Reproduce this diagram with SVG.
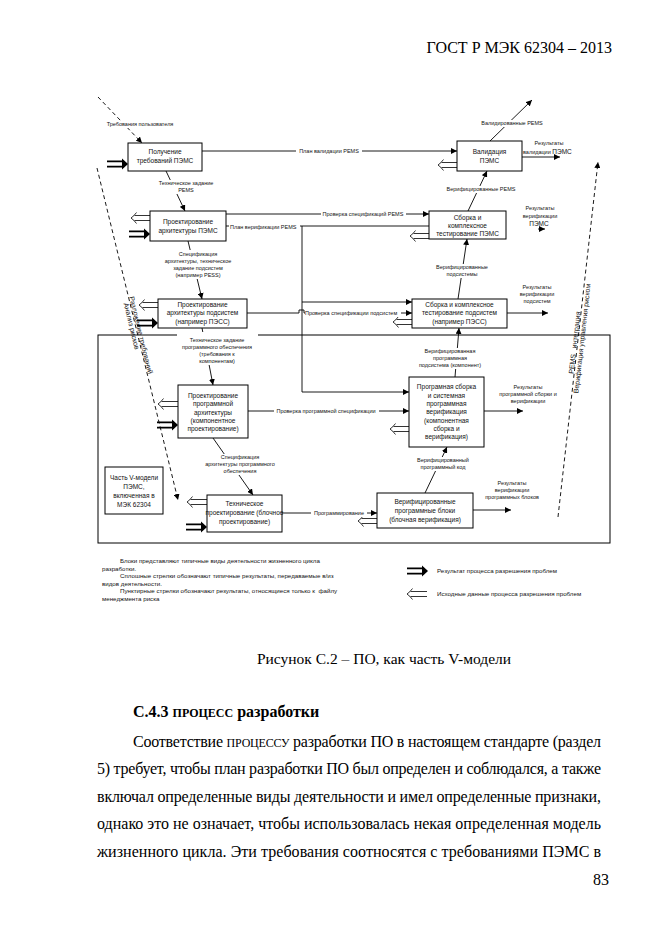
<svg xmlns="http://www.w3.org/2000/svg" xmlns:xlink="http://www.w3.org/1999/xlink" width="661" height="935" viewBox="0 0 661 935">
<style>
.bx{fill:#fff;stroke:#000;stroke-width:1}
.t{font-family:"Liberation Sans",Arial,sans-serif;font-size:6.5px;text-anchor:middle;fill:#111}
.l{font-family:"Liberation Sans",Arial,sans-serif;font-size:5.5px;text-anchor:middle;fill:#111}
.ls{font-family:"Liberation Sans",Arial,sans-serif;font-size:5.5px;fill:#111}
.lg{font-family:"Liberation Sans",Arial,sans-serif;font-size:6.2px;fill:#111}
.v{font-family:"Liberation Sans",Arial,sans-serif;font-size:7px;text-anchor:middle;fill:#111}
.s{font-family:"Liberation Serif","Times New Roman",serif;fill:#000}
.c path,.c line{stroke:#000;stroke-width:0.9;fill:none}
.c .d{stroke-dasharray:4 3}
.wb{fill:#fff}
</style>
<defs>
<marker id="a" markerUnits="userSpaceOnUse" markerWidth="7" markerHeight="6" refX="6" refY="3" orient="auto"><path d="M0,0 L6,3 L0,6 z" fill="#000"/></marker>
<g id="res"><path d="M-21,-2.6 H-4 M-21,2.6 H-4" stroke="#000" stroke-width="1.8" fill="none"/><path d="M-6,-5.5 L0,0 L-6,5.5 z" fill="#000"/></g>
<g id="src" fill="none" stroke="#000" stroke-width="0.8"><path d="M20,-2.5 H3.5 M20,2.5 H3.5"/><path d="M5.5,-5.5 Q3,-2 0,0 Q3,2 5.5,5.5"/></g>
</defs>
<rect width="661" height="935" fill="#fff"/>
<text class="s" x="612" y="53" font-size="16" text-anchor="end">ГОСТ Р МЭК 62304 – 2013</text>

<rect id="frame" x="98" y="335" width="512" height="208" fill="none" stroke="#000" stroke-width="1"/>

<g id="connectors" class="c">
<path class="d" d="M98,97 L142,143" marker-end="url(#a)"/>
<path d="M202,151 H457" marker-end="url(#a)"/>
<path d="M490,141 L532,100" marker-end="url(#a)"/>
<path d="M522,157 H560" marker-end="url(#a)"/>
<path d="M166,171 L185,211" marker-end="url(#a)"/>
<path d="M468,211 L487,171" marker-end="url(#a)"/>
<path d="M226,214 H429" marker-end="url(#a)"/>
<path d="M226,226 H429"/>
<path d="M302,226 V392 H409" marker-end="url(#a)"/>
<path d="M302,302 H412" marker-end="url(#a)"/>
<path d="M247,313 H299 V310 H304 V313 H412" marker-end="url(#a)"/>
<path d="M538,229 H545" marker-end="url(#a)"/>
<path d="M188,241 L202,299" marker-end="url(#a)"/>
<path d="M458,299 L467,239" marker-end="url(#a)"/>
<path d="M507,313 H548" marker-end="url(#a)"/>
<path d="M202,328 L213,385" marker-end="url(#a)"/>
<path d="M455,377 L459,328" marker-end="url(#a)"/>
<path d="M484,411 H523" marker-end="url(#a)"/>
<path d="M248,411 H409" marker-end="url(#a)"/>
<path d="M213,438 L253,495" marker-end="url(#a)"/>
<path d="M282,513 H377" marker-end="url(#a)"/>
<path d="M425,493 L447,447" marker-end="url(#a)"/>
<path d="M473,510 H511" marker-end="url(#a)"/>
<path class="d" d="M97,168 L178,500" marker-end="url(#a)"/>
<path class="d" d="M558,517 L598,162" marker-end="url(#a)"/>
<use xlink:href="#res" x="128" y="164"/>
<use xlink:href="#src" x="438" y="165"/>
<use xlink:href="#src" x="131" y="218"/>
<use xlink:href="#res" x="150" y="234"/>
<use xlink:href="#src" x="410" y="236"/>
<use xlink:href="#src" x="139" y="305"/>
<use xlink:href="#res" x="158" y="323"/>
<use xlink:href="#src" x="393" y="322"/>
<use xlink:href="#src" x="158" y="404"/>
<use xlink:href="#res" x="178" y="425"/>
<use xlink:href="#src" x="390" y="429"/>
<use xlink:href="#src" x="187" y="502"/>
<use xlink:href="#res" x="207" y="527"/>
<use xlink:href="#src" x="358" y="521"/>
</g>

<g id="labels">
<rect class="wb" x="104" y="121" width="73" height="7"/>
<rect class="wb" x="296" y="148" width="66" height="7"/>
<rect class="wb" x="479" y="120" width="66" height="7"/>
<rect class="wb" x="444" y="186" width="74" height="7"/>
<rect class="wb" x="156" y="180" width="60" height="14"/>
<rect class="wb" x="321" y="211" width="85" height="7"/>
<rect class="wb" x="229" y="223" width="71" height="7"/>
<rect class="wb" x="161" y="250" width="74" height="29"/>
<rect class="wb" x="433" y="264" width="58" height="14"/>
<rect class="wb" x="305" y="310" width="96" height="7"/>
<rect class="wb" x="177" y="332" width="81" height="33"/>
<rect class="wb" x="418" y="348" width="65" height="21"/>
<rect class="wb" x="274" y="408" width="105" height="7"/>
<rect class="wb" x="212" y="454" width="57" height="21"/>
<rect class="wb" x="311" y="510" width="56" height="7"/>
<rect class="wb" x="412" y="457" width="63" height="14"/>
<text class="l" x="140" y="126">Требования пользователя</text>
<text class="l" x="329" y="153">План валидации PEMS</text>
<text class="l" x="512" y="125">Валидированные PEMS</text>
<text class="l" x="549" y="145">Результаты</text>
<text class="ls" x="523" y="154">валидации <tspan font-size="6.5">ПЭМС</tspan></text>
<text class="l" x="481" y="191">Верифицированные PEMS</text>
<text class="l" x="186" y="185">Техническое задание</text>
<text class="l" x="186" y="192">PEMS</text>
<text class="l" x="363" y="216">Проверка спецификаций PEMS</text>
<text class="ls" x="230" y="228.5">План верификации PEMS</text>
<text class="l" x="540" y="210">Результаты</text>
<text class="l" x="540" y="218">верификации</text>
<text class="t" x="539" y="226">ПЭМС</text>
<text class="l" x="198" y="256">Спецификация</text>
<text class="l" x="198" y="263">архитектуры, техническое</text>
<text class="l" x="198" y="270">задание подсистем</text>
<text class="l" x="198" y="277">(например PESS)</text>
<text class="l" x="462" y="269">Верифицированные</text>
<text class="l" x="462" y="276">подсистемы</text>
<text class="l" x="537" y="289">Результаты</text>
<text class="l" x="537" y="296">верификации</text>
<text class="l" x="537" y="303">подсистем</text>
<text class="ls" x="305" y="315">Проверка спецификации подсистем</text>
<text class="l" x="217" y="342">Техническое задание</text>
<text class="l" x="217" y="349">программного обеспечения</text>
<text class="l" x="217" y="356">(требования к</text>
<text class="l" x="217" y="363">компонентам)</text>
<text class="l" x="450" y="353">Верифицированная</text>
<text class="l" x="450" y="360">программная</text>
<text class="l" x="450" y="367">подсистема (компонент)</text>
<text class="l" x="528" y="389">Результаты</text>
<text class="l" x="528" y="396">программной сборки и</text>
<text class="l" x="528" y="403">верификации</text>
<text class="l" x="326" y="413">Проверка программной спецификации</text>
<text class="l" x="240" y="459">Спецификация</text>
<text class="l" x="240" y="466">архитектуры программного</text>
<text class="l" x="240" y="473">обеспечения</text>
<text class="l" x="443" y="462">Верифицированный</text>
<text class="l" x="443" y="469">программный код</text>
<text class="l" x="512" y="485">Результаты</text>
<text class="l" x="512" y="492">верификации</text>
<text class="l" x="512" y="499">программных блоков</text>
<text class="l" x="339" y="515">Программирование</text>
<g transform="translate(137,331) rotate(76.3)">
<text class="v" x="5" y="-0.5">Разложение требований</text>
<text class="v" x="-6" y="6.5">Анализ рисков</text>
</g>
<g transform="translate(578,338) rotate(-83.6)">
<text class="v" x="-5" y="-0.5" xml:space="preserve">PEMS   интеграция</text>
<text class="v" x="0" y="6.5">Верификация управления риском</text>
</g>
</g>

<g id="n1"><rect class="bx" x="128" y="143" width="74" height="28"/><text class="t" x="165" y="154">Получение</text><text class="t" x="165" y="163">требований  ПЭМС</text></g>
<g id="n2"><rect class="bx" x="457" y="141" width="65" height="30"/><text class="t" x="489.5" y="154">Валидация</text><text class="t" x="489.5" y="163">ПЭМС</text></g>
<g id="n3"><rect class="bx" x="150" y="211" width="76" height="30"/><text class="t" x="188" y="224">Проектирование</text><text class="t" x="188" y="233">архитектуры  ПЭМС</text></g>
<g id="n4"><rect class="bx" x="429" y="211" width="77" height="28"/><text class="t" x="467.5" y="220">Сборка и</text><text class="t" x="467.5" y="228">комплексное</text><text class="t" x="467.5" y="236">тестирование  ПЭМС</text></g>
<g id="n5"><rect class="bx" x="158" y="299" width="89" height="29"/><text class="t" x="202.5" y="306.5">Проектирование</text><text class="t" x="202.5" y="315">архитектуры подсистем</text><text class="t" x="202.5" y="324">(например ПЭСС)</text></g>
<g id="n6"><rect class="bx" x="412" y="299" width="95" height="29"/><text class="t" x="459.5" y="306.5">Сборка и комплексное</text><text class="t" x="459.5" y="315">тестирование подсистем</text><text class="t" x="459.5" y="324">(например ПЭСС)</text></g>
<g id="n7"><rect class="bx" x="178" y="385" width="70" height="53"/><text class="t" x="213" y="398">Проектирование</text><text class="t" x="213" y="406">программной</text><text class="t" x="213" y="414.5">архитектуры</text><text class="t" x="213" y="423">(компонентное</text><text class="t" x="213" y="431">проектирование)</text></g>
<g id="n8"><rect class="bx" x="409" y="377" width="75" height="70"/><text class="t" x="446.5" y="389">Програмная сборка</text><text class="t" x="446.5" y="398">и системная</text><text class="t" x="446.5" y="406">программная</text><text class="t" x="446.5" y="414">верификация</text><text class="t" x="446.5" y="422.5">(компонентная</text><text class="t" x="446.5" y="430.5">сборка и</text><text class="t" x="446.5" y="439">верификация)</text></g>
<g id="n9"><rect class="bx" x="207" y="495" width="75" height="37"/><text class="t" x="244.5" y="506">Техническое</text><text class="t" x="244.5" y="515">проектирование (блочное</text><text class="t" x="244.5" y="523.5">проектирование)</text></g>
<g id="n10"><rect class="bx" x="377" y="493" width="96" height="35"/><text class="t" x="425" y="504">Верифицированные</text><text class="t" x="425" y="513">программные блоки</text><text class="t" x="425" y="521.5">(блочная верификация)</text></g>
<g id="n11"><rect class="bx" x="105" y="467" width="58" height="47"/><text class="t" x="134" y="480">Часть V-модели</text><text class="t" x="134" y="489">ПЭМС,</text><text class="t" x="134" y="498">включенная в</text><text class="t" x="134" y="507">МЭК 62304</text></g>

<g id="legend">
<text class="lg" x="120" y="563">Блоки представляют типичные виды деятельности жизненного цикла</text>
<text class="lg" x="102" y="571">разработки.</text>
<text class="lg" x="120" y="578">Сплошные стрелки обозначают типичные результаты, передаваемые в/из</text>
<text class="lg" x="102" y="586">видов деятельности.</text>
<text class="lg" x="120" y="593" xml:space="preserve">Пунктирные стрелки обозначают результаты, относящиеся только к  файлу</text>
<text class="lg" x="102" y="601">менеджмента риска</text>
<use xlink:href="#res" x="428" y="571"/>
<text class="lg" x="437" y="573">Результат процесса разрешения проблем</text>
<use xlink:href="#src" x="407" y="594"/>
<text class="lg" x="437" y="596">Исходные данные процесса разрешения проблем</text>
</g>

<text class="s" x="384" y="664" font-size="15.5" text-anchor="middle">Рисунок С.2 – ПО, как часть V-модели</text>
<text class="s" x="133" y="717" font-size="16" font-weight="bold">С.4.3 <tspan font-size="12">ПРОЦЕСС</tspan> разработки</text>
<g class="s" font-size="16">
<text x="133" y="747" textLength="468" lengthAdjust="spacing">Соответствие <tspan font-size="12">ПРОЦЕССУ</tspan> разработки ПО в настоящем стандарте (раздел</text>
<text x="97" y="774" textLength="504" lengthAdjust="spacing">5) требует, чтобы план разработки ПО был определен и соблюдался, а также</text>
<text x="97" y="802" textLength="504" lengthAdjust="spacing">включал определенные виды деятельности и имел определенные признаки,</text>
<text x="97" y="829" textLength="504" lengthAdjust="spacing">однако это не означает, чтобы использовалась некая определенная модель</text>
<text x="97" y="857" textLength="504" lengthAdjust="spacing">жизненного цикла. Эти требования соотносятся с требованиями ПЭМС в</text>
<text x="609" y="885" text-anchor="end">83</text>
</g>
</svg>
